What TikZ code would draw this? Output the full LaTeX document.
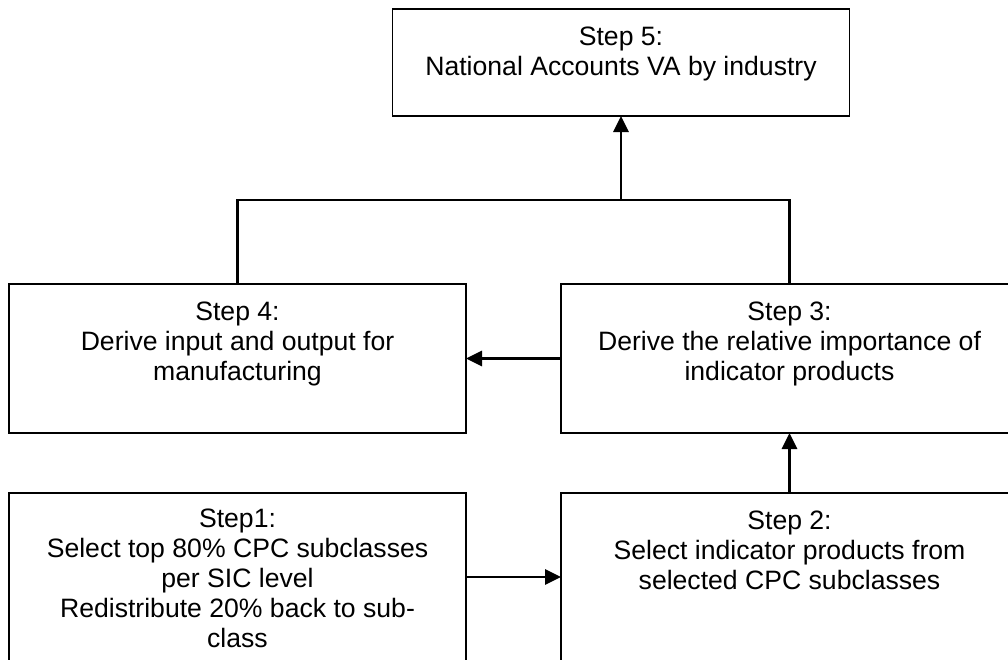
\documentclass[tikz,border=0pt]{standalone}
\usepackage{fontspec}
\setmainfont{Liberation Sans}
\usetikzlibrary{arrows.meta}
\begin{document}
\begin{tikzpicture}[x=1pt,y=-1pt,
  stepbox/.style={draw=black,line width=1.5pt,inner sep=0pt,outer sep=0pt,minimum width=457pt},
  steptext/.style={anchor=north,inner sep=0pt,align=center,font=\fontsize{26.6}{30}\selectfont},
  conn/.style={line width=2.8pt},
  arr/.style={conn,-{Triangle[length=16pt,width=15pt]}}]
\useasboundingbox (0,0) rectangle (1008,659);
\clip (0,0) rectangle (1008,659);
\node[stepbox,minimum height=107pt] (s5) at (621,62.5) {};
\node[stepbox,minimum height=149pt] (s4) at (237.5,358.5) {};
\node[stepbox,minimum height=149pt] (s3) at (789.5,358.5) {};
\node[stepbox,minimum height=168pt] (s1) at (237.5,577) {};
\node[stepbox,minimum height=168pt] (s2) at (789.5,577) {};
\node[steptext] (t5) at ([yshift=-18pt]s5.north) {Step 5:\\National Accounts VA by industry};
\node[steptext] (t4) at ([yshift=-18pt]s4.north) {Step 4:\\Derive input and output for\\manufacturing};
\node[steptext] (t3) at ([yshift=-18pt]s3.north) {Step 3:\\Derive the relative importance of\\indicator products};
\node[steptext] (t1) at ([yshift=-16pt]s1.north) {Step1:\\Select top 80\% CPC subclasses\\per SIC level\\Redistribute 20\% back to sub-\\class};
\node[steptext] (t2) at ([yshift=-18pt]s2.north) {Step 2:\\Select indicator products from\\selected CPC subclasses};
\coordinate (top) at (621,200);
\draw[conn] (s4.north) |- (top) -| (s3.north);
\draw[arr] (top) -- (s5.south);
\draw[arr] (s3.west) -- (s4.east);
\draw[arr] (s2.north) -- (s3.south);
\draw[arr] (s1.east) -- (s2.west);
\end{tikzpicture}
\end{document}
